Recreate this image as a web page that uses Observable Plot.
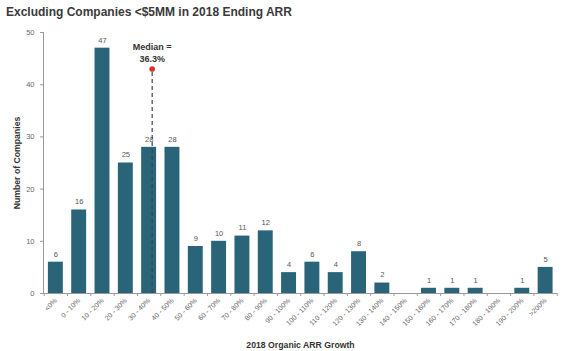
<!DOCTYPE html>
<html>
<head>
<meta charset="utf-8">
<script src="https://cdn.jsdelivr.net/npm/d3@7"></script>
<script src="https://cdn.jsdelivr.net/npm/@observablehq/plot@0.6"></script>
<style>
  body { margin: 0; background: #fff; font-family: "Liberation Sans", Arial, sans-serif; }
  #title { height: 25px; line-height: 25px; padding-left: 6px; font-size: 12px; font-weight: bold; color: #3a3a3a; }
</style>
</head>
<body>
<div id="title">Excluding Companies &lt;$5MM in 2018 Ending ARR</div>
<div id="chart"></div>
<script>
const categories = ["<0%","0 - 10%","10 - 20%","20 - 30%","30 - 40%","40 - 50%","50 - 60%","60 - 70%","70 - 80%","80 - 90%","90 - 100%","100 - 110%","110 - 120%","120 - 130%","130 - 140%","140 - 150%","150 - 160%","160 - 170%","170 - 180%","180 - 190%","190 - 200%",">200%"];
const counts = [6,16,47,25,28,28,9,10,11,12,4,6,4,8,2,0,1,1,1,0,1,5];
const binLows = [null,0,10,20,30,40,50,60,70,80,90,100,110,120,130,140,150,160,170,180,190,200];
const medianValue = 36.3;
const medianLabel = "Median =\n36.3%";
const yTicks = [0,10,20,30,40,50];

const data = categories.map((c, i) => ({cat: c, i, n: counts[i]}));
const halfW = 0.32;
const mBin = binLows.findIndex(b => b === Math.floor(medianValue / 10) * 10);
const mX = mBin - 0.5 + (medianValue - binLows[mBin]) / 10;
const mY = 43;

const chart = Plot.plot({
  width: 569,
  height: 326,
  marginTop: 7,
  marginBottom: 58,
  marginLeft: 43,
  marginRight: 12,
  style: {fontFamily: "Liberation Sans, Arial, sans-serif", color: "#555"},
  x: {domain: [-0.53, 21.51]},
  y: {domain: [0, 50]},
  marks: [
    Plot.rectY(data, {x1: d => d.i - halfW, x2: d => d.i + halfW, y1: 0, y2: "n", fill: "#2a6478"}),
    Plot.text(data.filter(d => d.n > 0), {x: "i", y: "n", text: d => String(d.n), dy: -8, fontSize: 7.5, fill: "#555"}),
    Plot.ruleX([mX], {y1: 0, y2: mY, stroke: "#444", strokeWidth: 1.2, strokeDasharray: "4,3"}),
    Plot.dot([mX], {x: d => d, y: mY, r: 2.8, fill: "#d9302c", stroke: "none"}),
    Plot.text([medianLabel], {x: mX, y: mY, text: d => d, lineAnchor: "bottom", dy: -7, fontSize: 9, fontWeight: "bold", fill: "#333", lineHeight: 1.3}),
    Plot.axisY({ticks: yTicks, tickSize: 3, fontSize: 7.5, stroke: "#999", color: "#666", label: "Number of Companies", labelAnchor: "center", labelArrow: "none", labelOffset: 30}),
    Plot.ruleX([-0.53], {stroke: "#999"}),
    Plot.ruleY([0], {stroke: "#999"}),
    Plot.axisX({ticks: d3.range(-0.5, 22, 1), tickSize: 3, tickFormat: () => "", stroke: "#999", label: null}),
    Plot.axisX({ticks: d3.range(0, 22), tickSize: 0, tickFormat: i => categories[i], tickRotate: -45, fontSize: 7, color: "#666", tickPadding: 6, label: "2018 Organic ARR Growth", labelAnchor: "center", labelArrow: "none", labelOffset: 54})
  ]
});
chart.querySelectorAll("g[aria-label='y-axis label'] text, g[aria-label='x-axis label'] text").forEach(t => {
  t.setAttribute("font-weight", "bold");
  t.setAttribute("font-size", "8.7");
  t.setAttribute("fill", "#333");
});
document.getElementById("chart").appendChild(chart);
</script>
</body>
</html>
